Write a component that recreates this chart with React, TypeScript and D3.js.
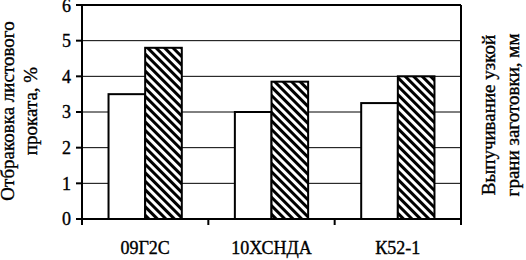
import React from "react";
import * as d3 from "d3";

const categories = ["09Г2С", "10ХСНДА", "К52-1"];
const seriesNames = ["reject", "bulge"];
const rejectValues = [3.5, 3.0, 3.25];
const bulgeValues = [4.8, 3.85, 4.0];
const yTicks = [0, 1, 2, 3, 4, 5, 6];
const leftTitle = ["Отбраковка листового", "проката, %"];
const rightTitle = ["Выпучивание узкой", "грани заготовки, мм"];

const W = 526;
const H = 260;
const L = 82;
const R = 461;
const T = 5;
const B = 219;
const FONT = '"Liberation Serif", "Times New Roman", "DejaVu Serif", serif';
const ts: React.CSSProperties = { fontFamily: FONT, stroke: "#000", strokeWidth: 0.35 };

export default function App() {
  const y = d3.scaleLinear().domain([0, 6]).range([B, T]);
  const x = d3.scaleBand<string>().domain(categories).range([L, R]).padding(0);
  const bw = x.bandwidth();
  const gap = bw * 0.21;
  const x1 = d3.scaleBand<string>().domain(seriesNames).range([gap, bw - gap]).padding(0);
  const boundaries = [L, ...categories.map((c) => (x(c) as number) + bw)];

  return (
    <svg
      width={W}
      height={H}
      style={{ position: "absolute", left: 0, top: 0, background: "#fff" }}
    >
      <defs>
        <pattern id="hatch" patternUnits="userSpaceOnUse" width={6} height={6} patternTransform="rotate(45)">
          <rect x={0} y={0} width={6} height={6} fill="#fff" />
          <rect x={0} y={0} width={6} height={3} fill="#000" />
        </pattern>
      </defs>
      <rect x={0} y={0} width={W} height={H} fill="#fff" />
      {yTicks.slice(1, -1).map((t) => (
        <line key={t} x1={L} x2={R} y1={y(t)} y2={y(t)} stroke="#000" strokeWidth={1} />
      ))}
      {categories.map((c, i) => {
        const bx = x(c) as number;
        const vals = [rejectValues[i], bulgeValues[i]];
        return seriesNames.map((s, j) => (
          <rect
            key={c + s}
            x={bx + (x1(s) as number)}
            y={y(vals[j])}
            width={x1.bandwidth()}
            height={B - y(vals[j])}
            fill={j === 0 ? "#fff" : "url(#hatch)"}
            stroke="#000"
            strokeWidth={2}
          />
        ));
      })}
      <line x1={L} x2={R} y1={T} y2={T} stroke="#000" strokeWidth={2} />
      <line x1={R} x2={R} y1={T} y2={B + 6} stroke="#000" strokeWidth={2} />
      <line x1={L} x2={L} y1={T - 1} y2={B + 6} stroke="#000" strokeWidth={2} />
      <line x1={L - 1} x2={R + 1} y1={B} y2={B} stroke="#000" strokeWidth={2} />
      {yTicks.map((t) => (
        <g key={t}>
          <line x1={L - 6} x2={L} y1={y(t)} y2={y(t)} stroke="#000" strokeWidth={2} />
          <text x={L - 11} y={Math.max(y(t), 6)} dy="0.35em" textAnchor="end" fontSize={18} style={ts}>
            {t}
          </text>
        </g>
      ))}
      {boundaries.map((bx, i) => (
        <line key={i} x1={bx} x2={bx} y1={B} y2={B + 6} stroke="#000" strokeWidth={2} />
      ))}
      {categories.map((c) => (
        <text key={c} x={(x(c) as number) + bw / 2} y={254} textAnchor="middle" fontSize={18} style={ts}>
          {c}
        </text>
      ))}
      <g transform={`translate(0, ${111}) rotate(-90)`}>
        {leftTitle.map((line, i) => (
          <text key={i} x={0} y={14 + i * 23} textAnchor="middle" fontSize={19} style={ts}>
            {line}
          </text>
        ))}
      </g>
      <g transform={`translate(0, ${115}) rotate(-90)`}>
        {rightTitle.map((line, i) => (
          <text key={i} x={0} y={495 + i * 24} textAnchor="middle" fontSize={19} style={ts}>
            {line}
          </text>
        ))}
      </g>
    </svg>
  );
}
